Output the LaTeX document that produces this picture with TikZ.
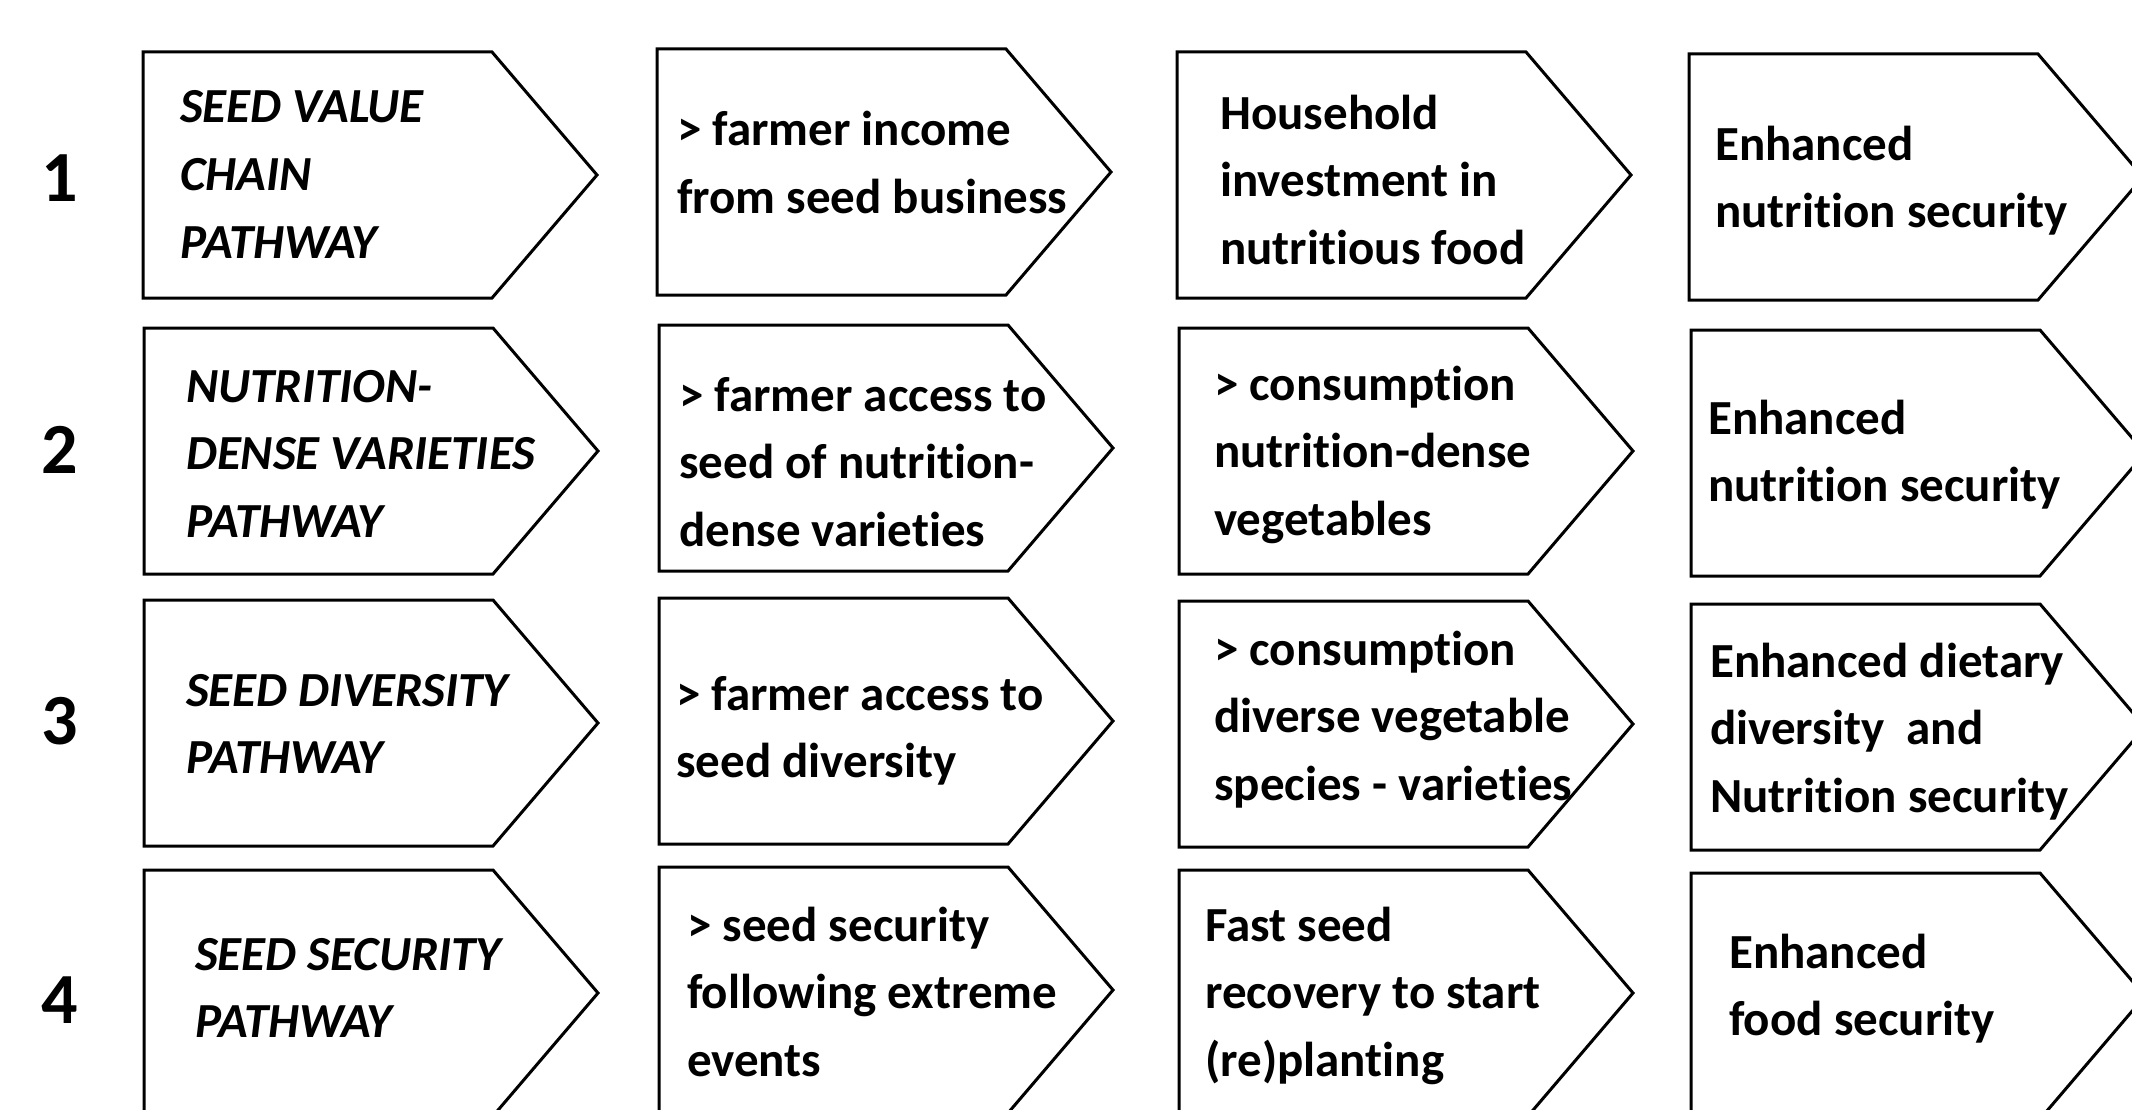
\documentclass[tikz,border=0pt]{standalone}
\usepackage{fontspec}
\setmainfont{Carlito}[Ligatures={NoCommon}]
\begin{document}
\begin{tikzpicture}[x=1pt,y=-1pt,
  chev/.style={draw=black, line width=3pt, line join=miter, fill=white},
  lbl/.style={inner sep=0pt, anchor=base west, align=left, font=\bfseries\fontsize{49}{67.5}\selectfont},
  pathlbl/.style={lbl, font=\bfseries\itshape\fontsize{49}{67.5}\selectfont},
  num/.style={inner sep=0pt, font=\bfseries\fontsize{72}{80}\selectfont}]
\newcommand\mychev[3]{%
  \draw[chev] (#2,#3) -- ++(349,0) -- ++(105,123) -- ++(-105,123) -- ++(-349,0) -- cycle;
  \coordinate (#1) at (#2+227,#3+123);}
\useasboundingbox (0,0) rectangle (2132,1110);
\clip (0,0) rectangle (2132,1110);
\fill[white] (0,0) rectangle (2132,1110);
% row 1
\mychev{c11}{143}{52}
\mychev{c12}{657}{49}
\mychev{c13}{1177}{52}
\mychev{c14}{1689}{54}
% row 2
\mychev{c21}{144}{328}
\mychev{c22}{659}{325}
\mychev{c23}{1179}{328}
\mychev{c24}{1691}{330}
% row 3
\mychev{c31}{144}{600}
\mychev{c32}{659}{598}
\mychev{c33}{1179}{601}
\mychev{c34}{1691}{604}
% row 4
\mychev{c41}{144}{870}
\mychev{c42}{659}{867}
\mychev{c43}{1179}{870}
\mychev{c44}{1691}{873}
% numbers
\node[num] (n1) at (60,178) {1};
\node[num] (n2) at (60,450) {2};
\node[num] (n3) at (60,721) {3};
\node[num] (n4) at (60,1000) {4};
% row 1 texts (anchor = baseline of last line)
\node[pathlbl] (t11) at (180,258) {SEED VALUE\\CHAIN\\PATHWAY};
\node[lbl] (t12) at (677,213.5) {> farmer income\\from seed business};
\node[lbl] (t13) at (1220,264) {Household\\investment in\\nutritious food};
\node[lbl] (t14) at (1715,227.5) {Enhanced\\nutrition security};
% row 2 texts
\node[pathlbl] (t21) at (186,537) {NUTRITION-\\DENSE VARIETIES\\PATHWAY};
\node[lbl] (t22) at (679,546) {> farmer access to\\seed of nutrition-\\dense varieties};
\node[lbl] (t23) at (1214,535) {> consumption\\nutrition-dense\\vegetables};
\node[lbl] (t24) at (1708,501.5) {Enhanced\\nutrition security};
% row 3 texts
\node[pathlbl] (t31) at (186,773.5) {SEED DIVERSITY\\PATHWAY};
\node[lbl] (t32) at (676,777.5) {> farmer access to\\seed diversity};
\node[lbl] (t33) at (1214,800) {> consumption\\diverse vegetable\\species - varieties};
\node[lbl] (t34) at (1710,812) {Enhanced dietary\\diversity\ \ and\\Nutrition security};
% row 4 texts
\node[pathlbl] (t41) at (195,1037.5) {SEED SECURITY\\PATHWAY};
\node[lbl] (t42) at (687,1076) {> seed security\\following extreme\\events};
\node[lbl] (t43) at (1205,1076) {Fast seed\\recovery to start\\(re)planting};
\node[lbl] (t44) at (1729,1035.5) {Enhanced\\food security};
\end{tikzpicture}
\end{document}
